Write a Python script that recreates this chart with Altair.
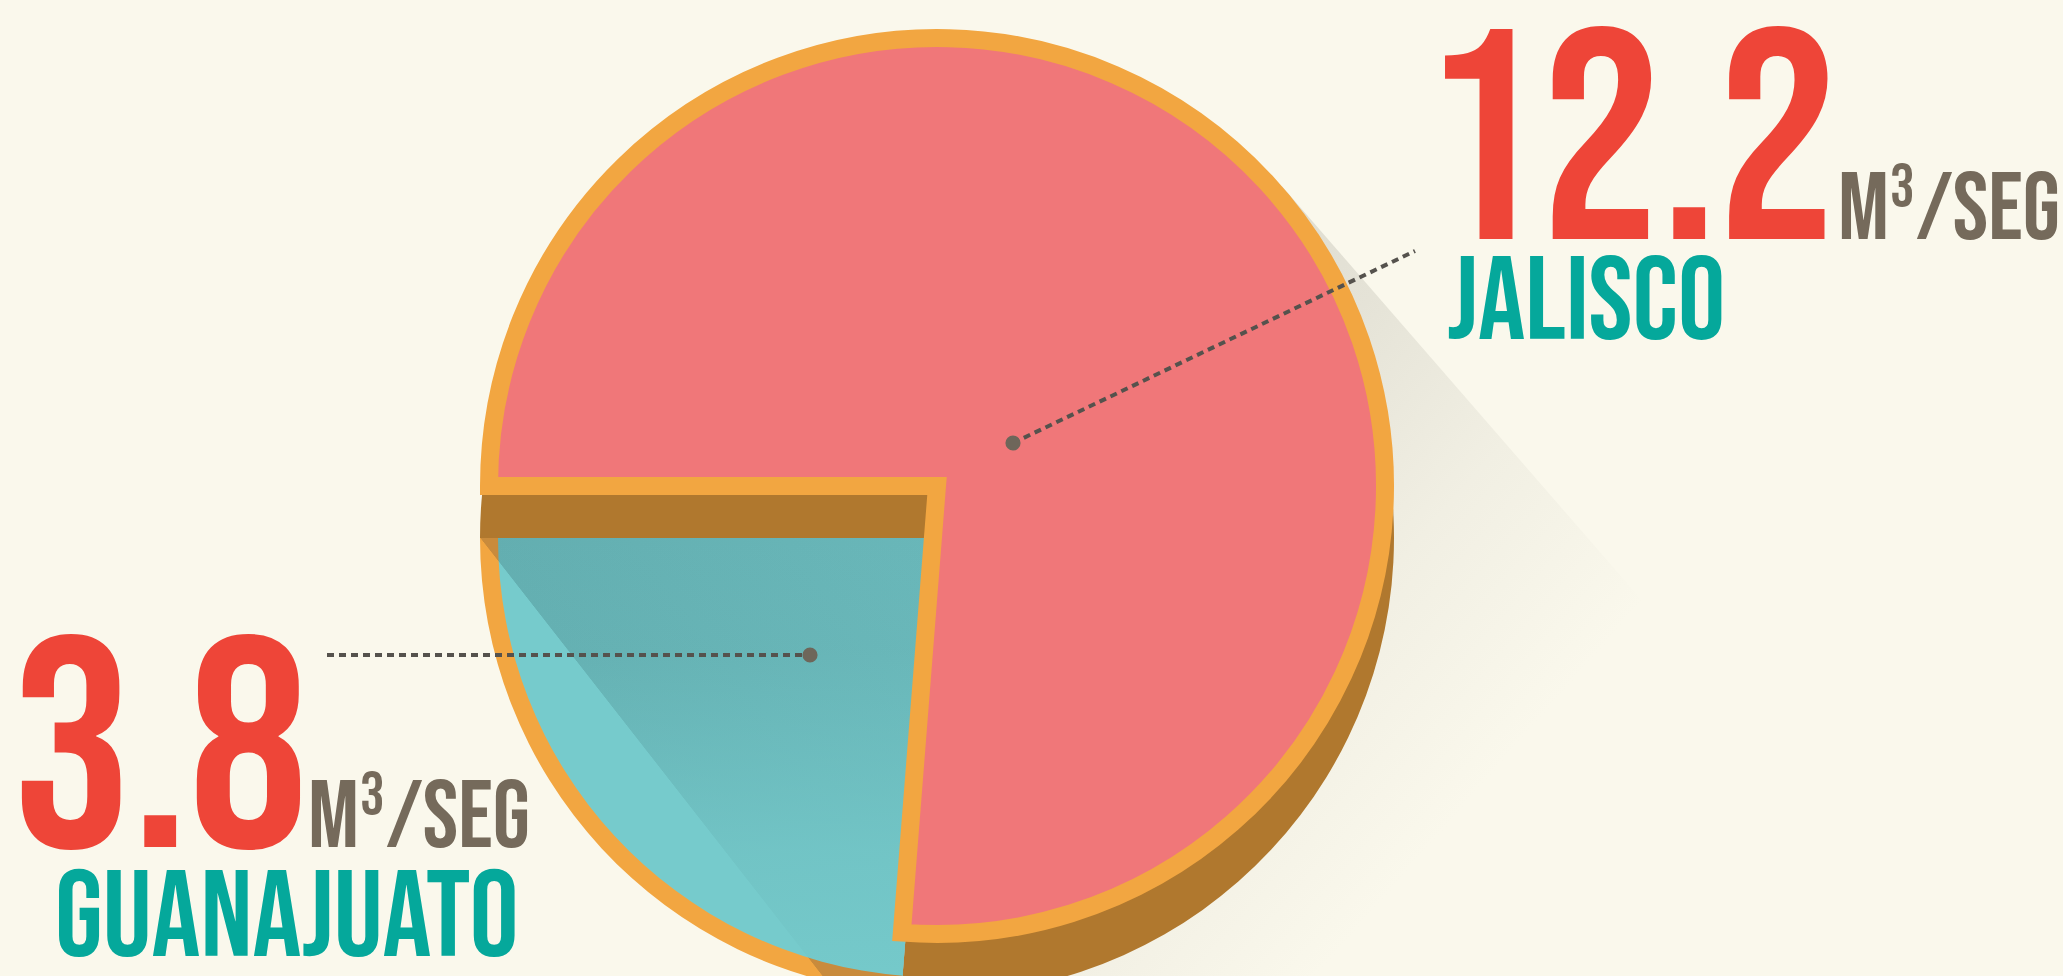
import math
import altair as alt
import pandas as pd

states = ["Jalisco", "Guanajuato"]
flows = [12.2, 3.8]
value_labels = ["12.2", "3.8"]
name_labels = ["JALISCO", "GUANAJUATO"]
unit_labels = ["M³/SEG", "M³/SEG"]

BG = "#FAF8EC"
RED_SLICE = "#F07779"
CYAN_SLICE = "#76CBCC"
CYAN_SHADE = "#63AEB0"
ORANGE = "#F2A641"
ORANGE_SHADE = "#C98B3C"
BROWN = "#B0782E"
NUM_RED = "#EE4538"
TEAL = "#05A89B"
UNIT_GRAY = "#756A5B"
DOT = "#6E665A"
LEADER = "#55524D"

W, H = 2063, 976
CX, CY = 937, 486
R_OUT = 457
STROKE = 18
R = R_OUT - STROKE / 2
DEPTH = 52

total = sum(flows)
A0 = 1.5 * math.pi
theta_scale = alt.Scale(domain=[0, total], range=[A0, A0 + 2 * math.pi])

df = pd.DataFrame({"state": states, "flow": flows, "order": list(range(len(states)))})
lab = pd.DataFrame({"state": states, "val": value_labels, "name": name_labels, "unit": unit_labels})

base = alt.Chart(df).transform_window(
    cum="sum(flow)", sort=[alt.SortField("order")], frame=[None, 0]
).transform_calculate(start="datum.cum - datum.flow")


def slice_of(state):
    return base.transform_filter(alt.datum.state == state)


def enc(cx, cy):
    return dict(
        theta=alt.Theta("start:Q", scale=theta_scale, stack=False),
        theta2=alt.Theta2("cum:Q"),
        x=alt.value(cx),
        y=alt.value(cy),
    )


# angles of each slice (derived from the data, used for gradient boxes)
cum = 0
angles = {}
for s, f in zip(states, flows):
    angles[s] = (A0 + 2 * math.pi * cum / total, A0 + 2 * math.pi * (cum + f) / total)
    cum += f


def sector_bbox(cx, cy, r_out, r_in, t0, t1):
    xs, ys = [], []
    n = 600
    for i in range(n + 1):
        t = t0 + (t1 - t0) * i / n
        for rr in (r_out, r_in):
            xs.append(cx + rr * math.sin(t))
            ys.append(cy - rr * math.cos(t))
    return min(xs), min(ys), max(xs), max(ys)


def hard_edge(bbox, A, ang_deg, c_light, c_dark, c_dark2):
    x0, y0, x1, y1 = bbox
    w, h = x1 - x0, y1 - y0
    ax, ay = (A[0] - x0) / w, (A[1] - y0) / h
    bx = (A[0] + 100 * math.cos(math.radians(ang_deg)) - x0) / w
    by = (A[1] + 100 * math.sin(math.radians(ang_deg)) - y0) / h
    dx, dy = bx - ax, by - ay
    L = math.hypot(dx, dy)
    dx, dy = dx / L, dy / L
    nx, ny = dy, -dx
    projs = [(cx_ - ax) * nx + (cy_ - ay) * ny for cx_ in (0, 1) for cy_ in (0, 1)]
    pmin, pmax = min(projs), max(projs)
    edge = -pmin / (pmax - pmin)
    return alt.LinearGradient(
        gradient="linear",
        stops=[
            alt.GradientStop(color=c_light, offset=0),
            alt.GradientStop(color=c_light, offset=edge),
            alt.GradientStop(color=c_dark, offset=min(1, edge + 0.001)),
            alt.GradientStop(color=c_dark2, offset=1),
        ],
        x1=ax + pmin * nx, y1=ay + pmin * ny, x2=ax + pmax * nx, y2=ay + pmax * ny,
    )


g0, g1 = angles["Guanajuato"]
CYB = CY + DEPTH
shadow_corner = (CX - R_OUT, CYB)
SHADOW_ANG = 52

cyan_bbox = sector_bbox(CX, CYB, R, 0, g0, g1)
ring_bbox = sector_bbox(CX, CYB, R_OUT, R_OUT - STROKE, g0, g1)

cyan_grad = hard_edge(cyan_bbox, shadow_corner, SHADOW_ANG, CYAN_SLICE, CYAN_SHADE, "#69B7B9")
ring_grad = hard_edge(ring_bbox, shadow_corner, SHADOW_ANG, ORANGE, ORANGE_SHADE, ORANGE_SHADE)
lighten = alt.LinearGradient(
    gradient="linear",
    stops=[
        alt.GradientStop(color="rgba(118,203,204,0)", offset=0),
        alt.GradientStop(color="rgba(118,203,204,0.1)", offset=0.25),
        alt.GradientStop(color="rgba(118,203,204,0.75)", offset=0.7),
        alt.GradientStop(color="rgba(118,203,204,0.95)", offset=1),
    ],
    x1=0, y1=0, x2=0, y2=1,
)

# long ground shadow
GA = math.radians(49)
dvx, dvy = math.cos(GA), math.sin(GA)
nvx, nvy = dvy, -dvx
BAND = 814
off = R_OUT - BAND / 2
P0 = (CX + off * nvx, CY + off * nvy)
LEN = 660
P1 = (P0[0] + LEN * dvx, P0[1] + LEN * dvy)
ground_grad = alt.LinearGradient(
    gradient="linear",
    stops=[
        alt.GradientStop(color="#DCDACE", offset=0),
        alt.GradientStop(color="#E5E3D7", offset=0.3),
        alt.GradientStop(color="#F1EFE3", offset=0.6),
        alt.GradientStop(color=BG, offset=0.92),
    ],
    x1=0, y1=0, x2=1, y2=1,
)
ground = slice_of("Jalisco").mark_rule(stroke=ground_grad, strokeWidth=BAND).encode(
    x=alt.value(P0[0]), y=alt.value(P0[1]), x2=alt.value(P1[0]), y2=alt.value(P1[1])
)

brown = slice_of("Jalisco").mark_arc(fill=BROWN, outerRadius=R_OUT, innerRadius=0).encode(**enc(CX, CYB))
cyan = slice_of("Guanajuato").mark_arc(fill=cyan_grad, outerRadius=R, innerRadius=0).encode(**enc(CX, CYB))
cyan_light = slice_of("Guanajuato").mark_arc(fill=lighten, outerRadius=R, innerRadius=0).encode(**enc(CX, CYB))
ring = slice_of("Guanajuato").mark_arc(fill=ring_grad, outerRadius=R_OUT, innerRadius=R_OUT - STROKE).encode(**enc(CX, CYB))
red = slice_of("Jalisco").mark_arc(
    fill=RED_SLICE, stroke=ORANGE, strokeWidth=STROKE, strokeJoin="miter", outerRadius=R, innerRadius=0
).encode(**enc(CX, CY))

# leaders and dots
lead_j = slice_of("Jalisco").mark_rule(stroke=LEADER, strokeWidth=4, strokeDash=[7, 5]).encode(
    x=alt.value(1013), y=alt.value(443), x2=alt.value(1415), y2=alt.value(251))
lead_g = slice_of("Guanajuato").mark_rule(stroke=LEADER, strokeWidth=4, strokeDash=[7, 5]).encode(
    x=alt.value(327), y=alt.value(655), x2=alt.value(810), y2=alt.value(655))
dot_j = slice_of("Jalisco").mark_circle(color=DOT, opacity=1, size=230).encode(x=alt.value(1013), y=alt.value(443))
dot_g = slice_of("Guanajuato").mark_circle(color=DOT, opacity=1, size=230).encode(x=alt.value(810), y=alt.value(655))

FONT = "Bebas Neue, Roboto Condensed, DejaVu Sans Condensed, sans-serif"


def txt(state, field, x, y, size, color):
    return alt.Chart(lab).transform_filter(alt.datum.state == state).mark_text(
        font=FONT, fontSize=size, fontWeight="normal", color=color, align="left", baseline="alphabetic"
    ).encode(text=f"{field}:N", x=alt.value(x), y=alt.value(y))


texts = [
    txt("Jalisco", "val", 1421, 239, 300, NUM_RED),
    txt("Jalisco", "unit", 1838, 239, 95, UNIT_GRAY),
    txt("Jalisco", "name", 1447, 339, 118, TEAL),
    txt("Guanajuato", "val", 12, 847, 300, NUM_RED),
    txt("Guanajuato", "unit", 308, 847, 95, UNIT_GRAY),
    txt("Guanajuato", "name", 55, 956, 122, TEAL),
]

chart = alt.layer(
    ground, brown, cyan, cyan_light, ring, red, lead_j, lead_g, dot_j, dot_g, *texts
).properties(
    width=W, height=H, autosize="none", padding=0, background=BG
).configure_view(strokeWidth=0)

chart.save("out.html", embed_options={"renderer": "svg", "actions": False})
